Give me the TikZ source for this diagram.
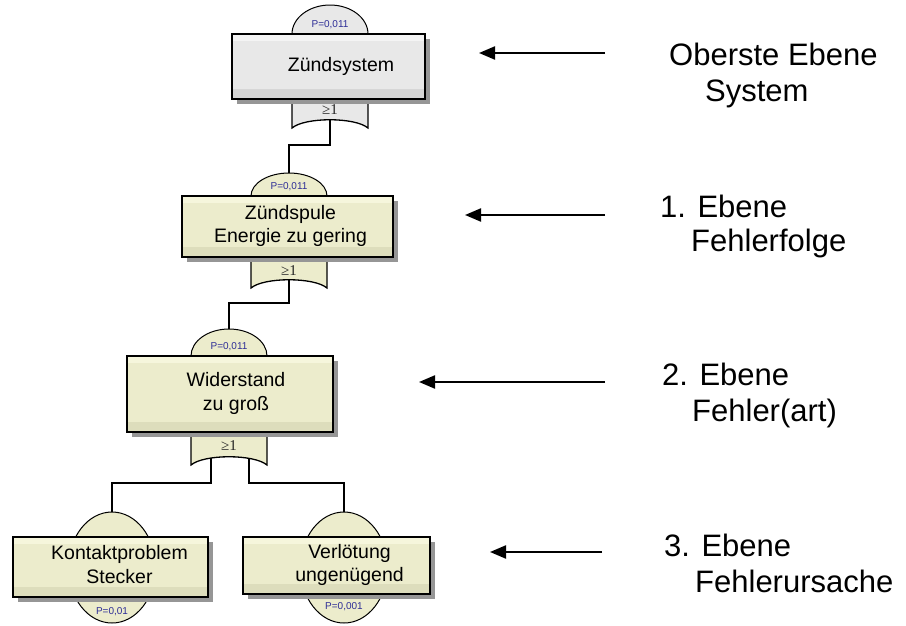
\documentclass[tikz,border=0pt]{standalone}
\usepackage{fontspec}
\setmainfont{Liberation Sans}
\newfontfamily\gatefont{Liberation Serif}
\usetikzlibrary{shapes.geometric,arrows.meta,shadows,calc}

\definecolor{creamfill}{RGB}{236,236,204}
\definecolor{creamtop}{RGB}{246,246,220}
\definecolor{creambot}{RGB}{221,221,188}
\definecolor{grayfill}{RGB}{232,232,232}
\definecolor{graytop}{RGB}{244,244,244}
\definecolor{graybot}{RGB}{214,214,214}
\definecolor{probblue}{RGB}{45,45,150}
\definecolor{shadowgray}{RGB}{150,150,150}

\newcommand\boxtext[2][0pt]{\hspace*{#1}\begin{tabular}{@{}c@{}}#2\end{tabular}}

\begin{document}
\begin{tikzpicture}[x=1pt,y=-1pt,
  conn/.style={draw=black, line width=1.3pt},
  levelarrow/.style={draw=black, line width=2.2pt, -{Triangle[length=16pt,width=13pt]}},
  boxbase/.style={draw=black, line width=1.3pt, rectangle, inner sep=0pt,
     font=\fontsize{19.5}{23.5}\selectfont,
     general shadow={shadow xshift=4.5pt, shadow yshift=-4.5pt, fill=shadowgray}},
  creambox/.style={boxbase, fill=creamfill, path picture={
      \fill[creamtop] (path picture bounding box.north west) rectangle ([yshift=-7pt]path picture bounding box.north east);
      \fill[creambot] (path picture bounding box.south west) rectangle ([yshift=10pt]path picture bounding box.south east);}},
  graybox/.style={boxbase, fill=grayfill, path picture={
      \fill[graytop] (path picture bounding box.north west) rectangle ([yshift=-7pt]path picture bounding box.north east);
      \fill[graybot] (path picture bounding box.south west) rectangle ([yshift=10pt]path picture bounding box.south east);}},
  domecream/.style={ellipse, draw=black, line width=1pt, fill=creamfill, inner sep=0pt},
  domegray/.style={ellipse, draw=black, line width=1pt, fill=grayfill, inner sep=0pt},
  gatecream/.style={draw=black, line width=1.3pt, fill=creamfill},
  gategray/.style={draw=black, line width=1.3pt, fill=grayfill},
  gatelabel/.style={font=\gatefont\fontsize{15}{15}\selectfont, text=black!85, inner sep=0pt},
  prob/.style={font=\fontsize{10}{10}\selectfont, text=probblue, inner sep=0pt},
  leveltext/.style={font=\fontsize{31}{36}\selectfont, anchor=base west, inner sep=0pt}
]
\useasboundingbox (0,0) rectangle (906,625);

% connector start points (inside the gates)
\coordinate (g1o) at (330,115);
\coordinate (g2o) at (289,275);
\coordinate (g3a) at (211,452);
\coordinate (g3b) at (249,452);

% domes / ellipses
\node[domegray, minimum width=76pt, minimum height=58pt] (d1) at (330,34) {};
\node[domecream, minimum width=76pt, minimum height=46pt] (d2) at (289,196) {};
\node[domecream, minimum width=76pt, minimum height=54pt] (d3) at (229,356) {};
\node[domecream, minimum width=87pt, minimum height=111pt] (d4) at (112,567.5) {};
\node[domecream, minimum width=87pt, minimum height=111pt] (d5) at (344,567.5) {};

% connectors
\draw[conn] (g1o) -- ++(0,30) -| (d2.north);
\draw[conn] (g2o) -- ++(0,28) -| (d3.north);
\draw[conn] (g3a) -- ++(0,31) -| (d4.north);
\draw[conn] (g3b) -- ++(0,31) -| (d5.north);

% OR gates
\draw[gategray] (292,90) -- (292,128) .. controls (305,117) and (355,117) .. (368,128) -- (368,90) -- cycle;
\draw[gatecream] (251,250) -- (251,288) .. controls (264,277) and (314,277) .. (327,288) -- (327,250) -- cycle;
\draw[gatecream] (191,425) -- (191,465) .. controls (204,454) and (254,454) .. (267,465) -- (267,425) -- cycle;

% boxes
\node[graybox, minimum width=193pt, minimum height=65pt] (sys) at (328.5,66.5) {\boxtext[25pt]{Zündsystem}};
\node[creambox, minimum width=211pt, minimum height=61pt] (spule) at (287.5,226.5) {\boxtext[6pt]{Zündspule\\Energie zu gering}};
\node[creambox, minimum width=206pt, minimum height=76pt] (wid) at (230,394) {\boxtext[12pt]{Widerstand\\zu groß}};
\node[creambox, minimum width=195pt, minimum height=60pt] (kont) at (110.5,567) {\boxtext[18pt]{Kontaktproblem\\Stecker}};
\node[creambox, minimum width=187pt, minimum height=57pt] (verl) at (336.5,565.5) {\boxtext[26pt]{Verlötung\\ungenügend}};

% gate labels
\node[gatelabel] (l1) at (330,110) {≥1};
\node[gatelabel] (l2) at (289,271) {≥1};
\node[gatelabel] (l3) at (229,446) {≥1};

% probabilities
\node[prob] (p1) at (330,25) {P=0,011};
\node[prob] (p2) at (289,187) {P=0,011};
\node[prob] (p3) at (229,347) {P=0,011};
\node[prob] (p4) at (112,612) {P=0,01};
\node[prob] (p5) at (344,607) {P=0,001};

% level arrows
\coordinate (a1s) at (605,53);  \coordinate (a1e) at (479,53);
\coordinate (a2s) at (605,215); \coordinate (a2e) at (465,215);
\coordinate (a3s) at (605,382); \coordinate (a3e) at (419,382);
\coordinate (a4s) at (602,552); \coordinate (a4e) at (490,552);
\draw[levelarrow] (a1s) -- (a1e);
\draw[levelarrow] (a2s) -- (a2e);
\draw[levelarrow] (a3s) -- (a3e);
\draw[levelarrow] (a4s) -- (a4e);

% level texts
\node[leveltext] (t1a) at (669,65) {Oberste Ebene};
\node[leveltext] (t1b) at (705,101) {System};
\node[leveltext] (t2a) at (660,217) {1. Ebene};
\node[leveltext] (t2b) at (691,251) {Fehlerfolge};
\node[leveltext] (t3a) at (662,385) {2. Ebene};
\node[leveltext] (t3b) at (692,421) {Fehler(art)};
\node[leveltext] (t4a) at (664,556) {3. Ebene};
\node[leveltext] (t4b) at (695,592) {Fehlerursache};
\end{tikzpicture}
\end{document}
